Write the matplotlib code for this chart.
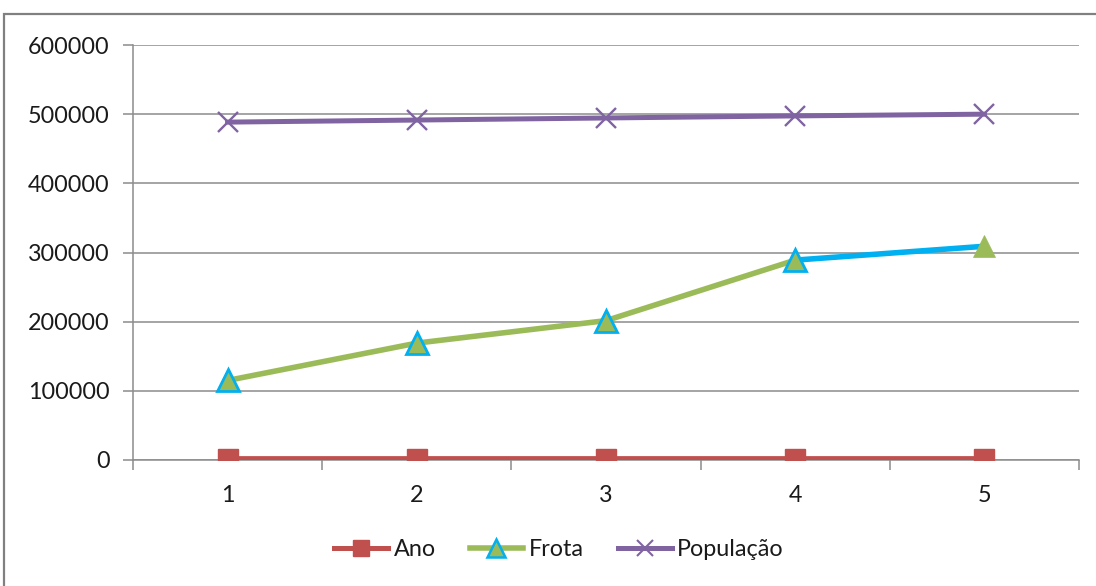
import matplotlib
matplotlib.use("Agg")
import matplotlib.pyplot as plt
from matplotlib.lines import Line2D
from matplotlib.patches import Rectangle
from matplotlib.ticker import FixedLocator

plt.rcParams['font.family'] = ['Lato', 'DejaVu Sans']

# Data
categorias = [1, 2, 3, 4, 5]
ano = [2006, 2007, 2008, 2009, 2010]
frota = [115000, 169000, 201500, 289000, 309000]
populacao = [488500, 491500, 494500, 497500, 500000]
y_ticks = [0, 100000, 200000, 300000, 400000, 500000, 600000]

C_ANO = '#C0504D'
C_FROTA = '#9BBB59'
C_POP = '#8064A2'
C_AZUL = '#00B0F0'
C_GRID = '#8C8C8C'
FS = 16.8

W, H = 1096, 586
fig = plt.figure(figsize=(W / 100, H / 100), dpi=100)
ax = fig.add_axes([133 / W, 1 - 460 / H, (1079 - 133) / W, (460 - 45) / H])

# Outer chart frame
fig.patches.append(Rectangle((4 / W, -0.2), 1.3, (H - 14) / H + 0.2,
                             transform=fig.transFigure, fill=False,
                             edgecolor='#808080', lw=1.6, zorder=0))

# Ano
ax.plot(categorias, ano, color=C_ANO, lw=3.6, marker='s', markersize=15,
        markerfacecolor=C_ANO, markeredgecolor=C_ANO, zorder=3)

# Frota: last segment drawn in blue
ax.plot(categorias[:4], frota[:4], color=C_FROTA, lw=4.0, zorder=3,
        solid_capstyle='round')
ax.plot(categorias[3:], frota[3:], color=C_AZUL, lw=4.0, zorder=3.1,
        solid_capstyle='round')
ax.plot(categorias[:4], frota[:4], ls='none', marker='^', markersize=16,
        markerfacecolor=C_FROTA, markeredgecolor=C_AZUL, markeredgewidth=2.0,
        zorder=4)
ax.plot(categorias[4:], frota[4:], ls='none', marker='^', markersize=16,
        markerfacecolor=C_FROTA, markeredgecolor=C_FROTA, markeredgewidth=0.5,
        zorder=4)

# População
ax.plot(categorias, populacao, color=C_POP, lw=3.6, marker='x', markersize=15,
        markeredgewidth=1.7, markeredgecolor=C_POP, zorder=3)

ax.set_xlim(0.5, 5.5)
ax.set_ylim(0, 600000)
ax.yaxis.set_major_locator(FixedLocator(y_ticks))
ax.set_yticklabels([str(v) for v in y_ticks])
ax.xaxis.set_major_locator(FixedLocator(categorias))
ax.xaxis.set_minor_locator(FixedLocator([0.5, 1.5, 2.5, 3.5, 4.5, 5.5]))
ax.set_xticklabels([str(c) for c in categorias])

ax.grid(axis='y', color=C_GRID, lw=1.1, zorder=1)
ax.set_axisbelow(True)
for s in ['top', 'right']:
    ax.spines[s].set_visible(False)
for s in ['left', 'bottom']:
    ax.spines[s].set_color(C_GRID)
    ax.spines[s].set_linewidth(1.1)

ax.tick_params(axis='y', length=7, width=1.1, color=C_GRID, pad=10,
               labelsize=FS, labelcolor='#1a1a1a')
ax.tick_params(axis='x', which='major', length=0, pad=18,
               labelsize=FS, labelcolor='#1a1a1a')
ax.tick_params(axis='x', which='minor', length=7, width=1.1, color=C_GRID)

handles = [
    Line2D([], [], color=C_ANO, lw=3.6, marker='s', markersize=12,
           markerfacecolor=C_ANO, markeredgecolor=C_ANO),
    Line2D([], [], color=C_FROTA, lw=4.0, marker='^', markersize=13,
           markerfacecolor=C_FROTA, markeredgecolor=C_AZUL, markeredgewidth=1.8),
    Line2D([], [], color=C_POP, lw=3.6, marker='x', markersize=12,
           markeredgecolor=C_POP, markeredgewidth=1.5),
]
fig.legend(handles, ['Ano', 'Frota', 'População'], loc='center',
           bbox_to_anchor=(559 / W, 1 - 550 / H), ncol=3, frameon=False,
           fontsize=FS, handlelength=2.3, handletextpad=0.25,
           columnspacing=1.45, labelcolor='#1a1a1a')

fig.savefig('out.png', dpi=100)
